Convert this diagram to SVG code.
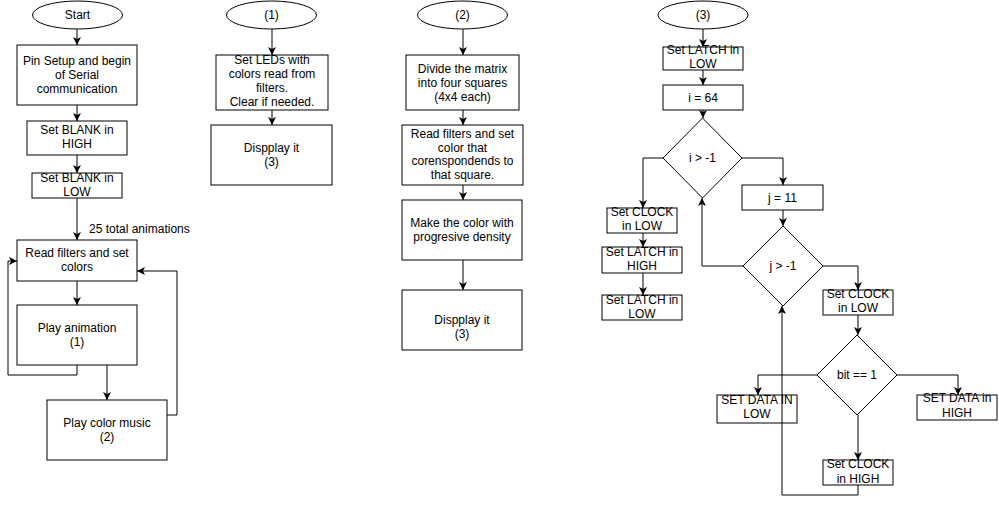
<svg xmlns="http://www.w3.org/2000/svg" width="999" height="505" viewBox="0 0 999 505">
<style>
  .s { fill: #fff; stroke: #000; stroke-width: 1; }
  .c { fill: none; stroke: #000; stroke-width: 1; }
  text { font-family: "Liberation Sans", Arial, Helvetica, sans-serif; font-size: 12px; fill: #000; text-anchor: middle; }
  .l { text-anchor: start; }
</style>
<defs>
  <marker id="a" viewBox="0 0 8 8" refX="8" refY="4" markerWidth="8" markerHeight="8" markerUnits="userSpaceOnUse" orient="auto">
    <path d="M0,0 L8,4 L0,8 L2,4 Z" fill="#000"/>
  </marker>
</defs>
<rect width="999" height="505" fill="#fff"/>

<g id="connectors">
  <path class="c" d="M77,29 V45" marker-end="url(#a)"/>
  <path class="c" d="M77,105 V121" marker-end="url(#a)"/>
  <path class="c" d="M77,155 V173" marker-end="url(#a)"/>
  <path class="c" d="M77,198 V240" marker-end="url(#a)"/>
  <path class="c" d="M77,281 V305" marker-end="url(#a)"/>
  <path class="c" d="M77,365 V375 H8 V261 H17" marker-end="url(#a)"/>
  <path class="c" d="M107,365 V400" marker-end="url(#a)"/>
  <path class="c" d="M167,415 H177 V271 H137" marker-end="url(#a)"/>

  <path class="c" d="M272,29 V55" marker-end="url(#a)"/>
  <path class="c" d="M272,110 V125" marker-end="url(#a)"/>

  <path class="c" d="M463,29 V55" marker-end="url(#a)"/>
  <path class="c" d="M463,110 V125" marker-end="url(#a)"/>
  <path class="c" d="M463,185 V200" marker-end="url(#a)"/>
  <path class="c" d="M463,260 V290" marker-end="url(#a)"/>

  <path class="c" d="M703,29 V47" marker-end="url(#a)"/>
  <path class="c" d="M703,70 V85" marker-end="url(#a)"/>
  <path class="c" d="M703,110 V118" marker-end="url(#a)"/>
  <path class="c" d="M663,158 H643 V208" marker-end="url(#a)"/>
  <path class="c" d="M643,233 V247" marker-end="url(#a)"/>
  <path class="c" d="M643,273 V295" marker-end="url(#a)"/>
  <path class="c" d="M742,158 H783 V185" marker-end="url(#a)"/>
  <path class="c" d="M783,210 V226" marker-end="url(#a)"/>
  <path class="c" d="M743,266 H702 V198" marker-end="url(#a)"/>
  <path class="c" d="M823,266 H858 V290" marker-end="url(#a)"/>
  <path class="c" d="M858,315 V335" marker-end="url(#a)"/>
  <path class="c" d="M817,375 H758 V395" marker-end="url(#a)"/>
  <path class="c" d="M897,375 H958 V395" marker-end="url(#a)"/>
  <path class="c" d="M858,415 V460" marker-end="url(#a)"/>
  <path class="c" d="M858,485 V495 H782 V306" marker-end="url(#a)"/>
  <text class="l" x="89" y="233">25 total animations</text>
</g>

<g id="start"><ellipse class="s" cx="77.5" cy="15" rx="45" ry="14"/><text x="77.5" y="19">Start</text></g>
<g id="pin-setup"><rect class="s" x="17" y="45" width="120" height="60"/>
  <text x="77" y="65">Pin Setup and begin</text><text x="77" y="79">of Serial</text><text x="77" y="93">communication</text></g>
<g id="blank-high"><rect class="s" x="27" y="121" width="100" height="34"/>
  <text x="77" y="134">Set BLANK in</text><text x="77" y="148">HIGH</text></g>
<g id="blank-low"><rect class="s" x="32" y="173" width="90" height="25"/>
  <text x="77" y="182">Set BLANK in</text><text x="77" y="196">LOW</text></g>
<g id="read-filters"><rect class="s" x="17" y="240" width="120" height="41"/>
  <text x="77" y="257">Read filters and set</text><text x="77" y="271">colors</text></g>
<g id="play-animation"><rect class="s" x="17" y="305" width="120" height="60"/>
  <text x="77" y="332">Play animation</text><text x="77" y="346">(1)</text></g>
<g id="play-color-music"><rect class="s" x="47" y="400" width="120" height="60"/>
  <text x="107" y="427">Play color music</text><text x="107" y="441">(2)</text></g>

<g id="sub1"><ellipse class="s" cx="271.5" cy="15" rx="45" ry="14"/><text x="271.5" y="19">(1)</text></g>
<g id="set-leds"><rect class="s" x="216" y="55" width="112" height="55"/>
  <text x="272" y="64">Set LEDs with</text><text x="272" y="78">colors read from</text><text x="272" y="92">filters.</text><text x="272" y="106">Clear if needed.</text></g>
<g id="display1"><rect class="s" x="211" y="125" width="121" height="60"/>
  <text x="271.5" y="152">Dispplay it</text><text x="271.5" y="166">(3)</text></g>

<g id="sub2"><ellipse class="s" cx="462.5" cy="15" rx="45" ry="14"/><text x="462.5" y="19">(2)</text></g>
<g id="divide"><rect class="s" x="406" y="55" width="113" height="55"/>
  <text x="462.5" y="73">Divide the matrix</text><text x="462.5" y="87">into four squares</text><text x="462.5" y="101">(4x4 each)</text></g>
<g id="read-square"><rect class="s" x="402" y="125" width="121" height="60"/>
  <text x="462.5" y="138">Read filters and set</text><text x="462.5" y="152">color that</text><text x="462.5" y="165">corenspondends to</text><text x="462.5" y="179">that square.</text></g>
<g id="progressive"><rect class="s" x="402" y="200" width="120" height="60"/>
  <text x="462" y="227">Make the color with</text><text x="462" y="241">progresive density</text></g>
<g id="display2"><rect class="s" x="402" y="290" width="120" height="60"/>
  <text x="462" y="324">Dispplay it</text><text x="462" y="338">(3)</text></g>

<g id="sub3"><ellipse class="s" cx="703" cy="15" rx="45" ry="14"/><text x="703" y="19">(3)</text></g>
<g id="latch-low1"><rect class="s" x="663" y="47" width="80" height="23"/>
  <text x="703" y="54">Set LATCH in</text><text x="703" y="68">LOW</text></g>
<g id="i64"><rect class="s" x="663" y="85" width="80" height="25"/><text x="703" y="102">i = 64</text></g>
<g id="i-cond"><path class="s" d="M702.5,118 L742,158 L702.5,198 L663,158 Z"/><text x="702.5" y="162">i &gt; -1</text></g>
<g id="clock-low1"><rect class="s" x="607" y="208" width="70" height="25"/>
  <text x="642" y="216">Set CLOCK</text><text x="642" y="230">in LOW</text></g>
<g id="latch-high"><rect class="s" x="602" y="247" width="80" height="26"/>
  <text x="642" y="256">Set LATCH in</text><text x="642" y="270">HIGH</text></g>
<g id="latch-low2"><rect class="s" x="602" y="295" width="80" height="25"/>
  <text x="642" y="304">Set LATCH in</text><text x="642" y="318">LOW</text></g>
<g id="j11"><rect class="s" x="742" y="185" width="81" height="25"/><text x="782.5" y="202">j = 11</text></g>
<g id="j-cond"><path class="s" d="M783,226 L823,266 L783,306 L743,266 Z"/><text x="783" y="270">j &gt; -1</text></g>
<g id="clock-low2"><rect class="s" x="823" y="290" width="70" height="25"/>
  <text x="858" y="298">Set CLOCK</text><text x="858" y="312">in LOW</text></g>
<g id="bit-cond"><path class="s" d="M857,335 L897,375 L857,415 L817,375 Z"/><text x="857" y="379">bit == 1</text></g>
<g id="data-low"><rect class="s" x="717" y="395" width="80" height="28"/>
  <text x="757" y="404">SET DATA IN</text><text x="757" y="418">LOW</text></g>
<g id="data-high"><rect class="s" x="917" y="395" width="80" height="25"/>
  <text x="957" y="402">SET DATA in</text><text x="957" y="417">HIGH</text></g>
<g id="clock-high"><rect class="s" x="823" y="460" width="70" height="25"/>
  <text x="858" y="468">Set CLOCK</text><text x="858" y="483">in HIGH</text></g>
<path class="c" d="M782,395 V423"/>
</svg>
